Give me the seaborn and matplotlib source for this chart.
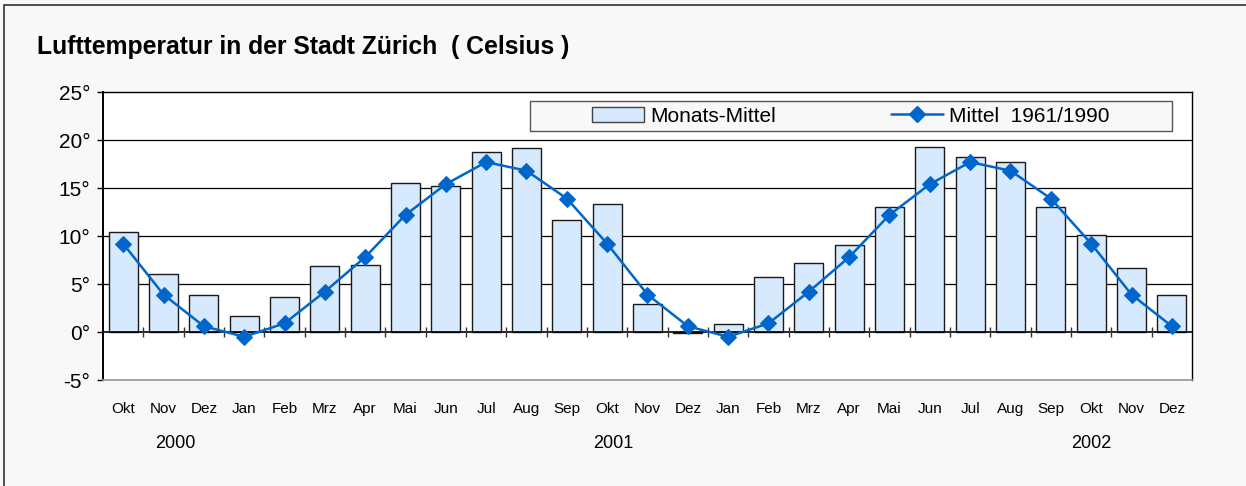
import pandas as pd
import seaborn as sns
import matplotlib.pyplot as plt
import matplotlib.transforms as mtransforms
from matplotlib.patches import Patch, Rectangle
from matplotlib.lines import Line2D

# data: Oct 2000 .. Dec 2002
months = ["Okt", "Nov", "Dez",
          "Jan", "Feb", "Mrz", "Apr", "Mai", "Jun", "Jul", "Aug", "Sep", "Okt", "Nov", "Dez",
          "Jan", "Feb", "Mrz", "Apr", "Mai", "Jun", "Jul", "Aug", "Sep", "Okt", "Nov", "Dez"]
monthly_mean = [10.4, 6.0, 3.9,
                1.7, 3.6, 6.9, 7.0, 15.5, 15.2, 18.7, 19.2, 11.7, 13.3, 2.9, -0.1,
                0.8, 5.7, 7.2, 9.1, 13.0, 19.3, 18.2, 17.7, 13.0, 10.1, 6.7, 3.9]
norm_1961_1990 = [9.2, 3.9, 0.6,
                  -0.5, 0.9, 4.2, 7.8, 12.2, 15.4, 17.7, 16.8, 13.9, 9.2, 3.9, 0.6,
                  -0.5, 0.9, 4.2, 7.8, 12.2, 15.4, 17.7, 16.8, 13.9, 9.2, 3.9, 0.6]
years = ["2000", "2001", "2002"]
year_pos = [1.3, 12.15, 24.0]
yticks = [-5, 0, 5, 10, 15, 20, 25]

df = pd.DataFrame({"pos": range(len(months)), "month": months,
                   "mean": monthly_mean, "norm": norm_1961_1990})

sns.set_theme(style="white")
plt.rcParams["font.family"] = ["Liberation Sans", "DejaVu Sans"]
plt.rcParams.update({"text.color": "black", "xtick.color": "black",
                     "ytick.color": "black", "axes.labelcolor": "black"})

bar_face = "#d6e9fd"
line_col = "#0066cc"

fig = plt.figure(figsize=(12.46, 4.86), dpi=100, facecolor="#f8f8f8")
ax = fig.add_axes([103 / 1246, 1 - 380 / 486, 1089 / 1246, 288 / 486])
ax.set_facecolor("white")

sns.barplot(data=df, x="pos", y="mean", color=bar_face, saturation=1,
            width=0.72, edgecolor="#1a1a1a", linewidth=1.0, ax=ax, zorder=2)
sns.lineplot(data=df, x="pos", y="norm", color=line_col, linewidth=1.8,
             marker="D", markersize=8.5, markeredgecolor=line_col, ax=ax, zorder=4)

ax.set_xlim(-0.5, len(months) - 0.5)
ax.set_ylim(-5, 25)
ax.set_yticks(yticks)
ax.set_yticklabels([f"{t}°" for t in yticks], fontsize=15)
ax.set_xticks(range(len(months)))
ax.set_xticklabels(months, fontsize=11)
ax.tick_params(axis="x", length=0, pad=16)
ax.tick_params(axis="y", length=4, width=1, color="black", direction="out", pad=5, left=True)
ax.set_xlabel("")
ax.set_ylabel("")

# grid lines behind bars
for g in [5, 10, 15, 20]:
    ax.axhline(g, color="black", linewidth=0.9, zorder=0)
ax.axhline(0, color="black", linewidth=1.2, zorder=3)
ax.vlines([i + 0.5 for i in range(len(months) - 1)], -0.55, 0.55,
          color="#333333", linewidth=1.0, zorder=3)

for side in ["left", "top", "right"]:
    ax.spines[side].set_color("black")
    ax.spines[side].set_linewidth(1.0)
ax.spines["left"].set_linewidth(1.4)
ax.spines["bottom"].set_color("#999999")

# year labels
trans = mtransforms.blended_transform_factory(ax.transData, fig.transFigure)
for yr, xp in zip(years, year_pos):
    ax.text(xp, 1 - 444 / 486, yr, transform=trans, ha="center", va="center", fontsize=13)

# legend box
bx0, bx1 = (530 - 103) / 1089, (1172 - 103) / 1089
by0, by1 = (380 - 131) / 288, (380 - 101) / 288
ax.add_patch(Rectangle((bx0, by0), bx1 - bx0, by1 - by0, transform=ax.transAxes,
                       facecolor="#f8f8f8", edgecolor="#555555", linewidth=1.0, zorder=5))
handles = [Patch(facecolor=bar_face, edgecolor="#444444", linewidth=1.0),
           Line2D([], [], color=line_col, linewidth=1.8, marker="D", markersize=8.5)]
ax.legend(handles, ["Monats-Mittel", "Mittel  1961/1990"], loc="center",
          bbox_to_anchor=((bx0 + bx1) / 2, (by0 + by1) / 2), ncol=2, frameon=False,
          fontsize=15, handlelength=2.5, handletextpad=0.3, columnspacing=5.5,
          handleheight=0.75).set_zorder(6)

fig.text(37 / 1246, 1 - 47 / 486, "Lufttemperatur in der Stadt Zürich  ( Celsius )",
         fontsize=17.8, fontweight="bold", va="center", ha="left")

# outer frame (top and left edges visible)
fig.patches.append(Rectangle((4 / 1246, -0.1), 1.2, 1 - 5.5 / 486 + 0.1,
                             transform=fig.transFigure, facecolor="none",
                             edgecolor="#333333", linewidth=1.2))

fig.savefig("out.png", dpi=100, facecolor=fig.get_facecolor())
